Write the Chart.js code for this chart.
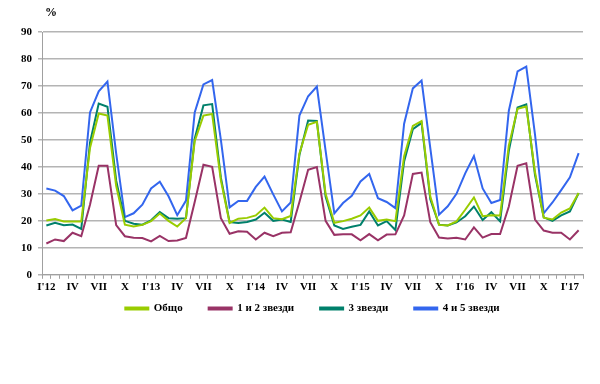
<!DOCTYPE html>
<html>
<head>
<meta charset="utf-8">
<script src="https://cdn.jsdelivr.net/npm/chart.js@4.4.0/dist/chart.umd.min.js"></script>
<style>
  body { margin: 0; background: #fff; }
</style>
</head>
<body>
<canvas id="chart" width="600" height="384"></canvas>
<script>
// Months Jan 2012 .. Feb 2017, only every third one gets a label
const months = [
    "I'12", 'II', 'III', 'IV', 'V', 'VI', 'VII', 'VIII', 'IX', 'X', 'XI', 'XII',
    "I'13", 'II', 'III', 'IV', 'V', 'VI', 'VII', 'VIII', 'IX', 'X', 'XI', 'XII',
    "I'14", 'II', 'III', 'IV', 'V', 'VI', 'VII', 'VIII', 'IX', 'X', 'XI', 'XII',
    "I'15", 'II', 'III', 'IV', 'V', 'VI', 'VII', 'VIII', 'IX', 'X', 'XI', 'XII',
    "I'16", 'II', 'III', 'IV', 'V', 'VI', 'VII', 'VIII', 'IX', 'X', 'XI', 'XII',
    "I'17", 'II'
];

// Occupancy, %
const total = [
    20.1, 20.7, 19.8, 19.8, 19.8, 47.0, 59.8, 59.0, 33.0, 18.6, 17.9, 18.5,
    19.9, 22.7, 20.0, 17.9, 21.0, 49.5, 59.0, 59.6, 35.0, 19.2, 20.8, 21.1,
    22.0, 24.9, 21.0, 20.6, 21.8, 45.0, 55.6, 56.7, 30.0, 19.3, 19.9, 20.8,
    22.0, 24.9, 20.0, 20.5, 19.9, 44.0, 55.2, 57.0, 29.0, 18.5, 18.3, 19.8,
    24.1, 28.7, 21.7, 22.1, 22.0, 48.0, 61.5, 62.4, 38.0, 21.2, 20.5, 23.1,
    24.6, 30.3
];
const stars12 = [
    11.6, 13.1, 12.5, 15.6, 14.3, 26.0, 40.4, 40.4, 18.4, 14.3, 13.7, 13.6,
    12.4, 14.4, 12.5, 12.7, 13.7, 27.0, 40.8, 40.0, 21.0, 15.2, 16.1, 16.0,
    13.1, 15.6, 14.3, 15.6, 15.8, 27.0, 38.9, 39.9, 20.0, 14.8, 15.0, 15.0,
    12.8, 15.1, 12.8, 14.9, 15.0, 22.0, 37.4, 37.9, 19.5, 13.8, 13.5, 13.7,
    13.1, 17.6, 13.8, 15.1, 15.1, 25.3, 40.4, 41.3, 20.5, 16.4, 15.6, 15.6,
    13.1, 16.5
];
const stars3 = [
    18.3, 19.3, 18.4, 18.6, 17.0, 49.0, 63.5, 62.3, 35.0, 20.0, 18.9, 18.6,
    20.2, 23.3, 21.0, 20.8, 21.0, 50.5, 62.8, 63.3, 36.0, 19.5, 19.2, 19.6,
    20.5, 23.0, 20.0, 20.5, 19.6, 44.4, 57.2, 57.0, 29.0, 18.3, 17.0, 17.8,
    18.5, 23.5, 18.3, 19.9, 16.6, 42.0, 54.0, 56.3, 28.0, 18.6, 18.3, 19.4,
    21.7, 25.3, 20.3, 23.2, 19.8, 46.0, 62.0, 63.2, 37.0, 21.3, 20.0, 22.0,
    23.5, 30.3
];
const stars45 = [
    32.0, 31.2, 29.2, 23.9, 25.6, 60.2, 68.0, 71.6, 45.0, 21.4, 22.8, 26.0,
    32.0, 34.5, 29.1, 22.1, 27.5, 60.2, 70.6, 72.2, 50.0, 25.0, 27.4, 27.4,
    32.6, 36.4, 29.8, 23.5, 26.8, 59.0, 66.2, 69.8, 46.0, 22.8, 26.6, 29.3,
    34.6, 37.4, 28.4, 27.0, 24.7, 56.0, 69.1, 72.0, 47.0, 22.3, 25.4, 30.0,
    37.6, 44.0, 32.0, 26.6, 27.7, 60.8, 75.4, 77.2, 52.0, 22.8, 26.8, 31.4,
    36.1, 45.1
];

const serif = '"Liberation Serif", "Times New Roman", serif';

function line(label, data, color) {
    return {
        label,
        data,
        borderColor: color,
        backgroundColor: color,
        borderWidth: 2,
        pointRadius: 0,
        tension: 0,
        fill: false,
    };
}

// "%" sign above the value axis, legend pulled up closer to the axis
const extras = {
    id: 'extras',
    afterLayout(chart) {
        chart.legend.top -= 19;
        chart.legend.bottom -= 19;
    },
    afterDraw(chart) {
        const c = chart.ctx;
        c.save();
        c.font = 'bold 12px ' + serif;
        c.fillStyle = '#000';
        c.textAlign = 'center';
        c.textBaseline = 'middle';
        c.fillText('%', 51, 13);
        c.restore();
    }
};

new Chart(document.getElementById('chart'), {
    type: 'line',
    data: {
        labels: months,
        datasets: [
            line('Общо', total, '#99cc00'),
            line('1 и 2 звезди', stars12, '#993366'),
            line('3 звезди', stars3, '#00806b'),
            line('4 и 5 звезди', stars45, '#3366ee'),
        ],
    },
    options: {
        responsive: false,
        animation: false,
        layout: { padding: { top: 32, right: 17, bottom: 41, left: 0 } },
        plugins: {
            tooltip: { enabled: false },
            legend: {
                position: 'bottom',
                fullSize: false,
                labels: {
                    color: '#000',
                    font: { family: serif, size: 11, weight: 'bold' },
                    boxWidth: 23,
                    boxHeight: 2,
                    padding: 26,
                },
            },
        },
        scales: {
            x: {
                offset: true,
                grid: {
                    offset: true,
                    drawOnChartArea: false,
                    tickLength: 4,
                    color: '#a0a0a0',
                },
                border: { color: '#a0a0a0', width: 1 },
                ticks: {
                    autoSkip: false,
                    maxRotation: 0,
                    padding: 2,
                    color: '#000',
                    font: { family: serif, size: 11, weight: 'bold' },
                    callback: (v, i) => (i % 3 === 0 ? months[i] : ''),
                },
            },
            y: {
                min: 0,
                max: 90,
                afterFit: (scale) => { scale.width = 42; },
                grid: { color: '#b4b4b4', lineWidth: 1.5, tickLength: 4 },
                border: { color: '#a0a0a0', width: 1 },
                ticks: {
                    stepSize: 10,
                    padding: 6,
                    color: '#000',
                    font: { family: serif, size: 11, weight: 'bold' },
                },
            },
        },
    },
    plugins: [extras],
});
</script>
</body>
</html>
